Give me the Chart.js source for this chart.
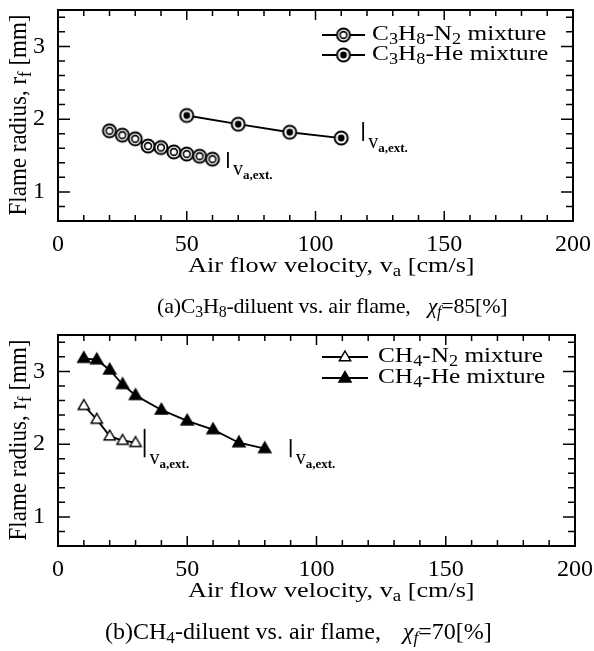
<!DOCTYPE html>
<html>
<head>
<meta charset="utf-8">
<script src="https://cdn.jsdelivr.net/npm/chart.js@4.4.1/dist/chart.umd.min.js"></script>
<style>
  html, body { margin: 0; padding: 0; background: #fff; }
  #pagina { position: relative; width: 594px; height: 651px; overflow: hidden;
            font-family: 'Liberation Serif', 'Times New Roman', serif; color: #000; }
  .caja { position: absolute; left: 0; width: 594px; height: 262px; }
  .t { position: absolute; white-space: nowrap; line-height: 1; transform-origin: 0 0; }
  .t sub { font-size: 0.72em; vertical-align: -0.25em; line-height: 0; }
  .ytitulo { font-size: 23px; transform-origin: 50% 50%;
             transform: translate(-50%, -50%) rotate(-90deg) scaleY(1.1); }
  .ancho { transform: scaleX(1.15); }
  .ext { font-size: 20px; }
  .ext sub { font-size: 13px; font-weight: bold; vertical-align: -4px; }
</style>
</head>
<body>
<div id="pagina">
  <div class="caja" style="top:0px"><canvas id="grafico_a" width="594" height="262"></canvas></div>
  <div class="caja" style="top:325px"><canvas id="grafico_b" width="594" height="262"></canvas></div>

  <!-- textos grafico (a) -->
  <div class="t ytitulo" style="left:18px; top:115px">Flame radius, r<sub>f</sub> [mm]</div>
  <div class="t" style="left:188px; top:253.6px; font-size:22px; transform:scaleX(1.19)">Air flow velocity, v<sub>a</sub> [cm/s]</div>
  <div class="t ancho" style="left:372px; top:21.6px; font-size:22px">C<sub>3</sub>H<sub>8</sub>-N<sub>2</sub> mixture</div>
  <div class="t ancho" style="left:372px; top:41.6px; font-size:22px">C<sub>3</sub>H<sub>8</sub>-He mixture</div>
  <div class="t" style="left:157px; top:294.6px; font-size:22px; letter-spacing:-0.2px">(a)C<sub>3</sub>H<sub>8</sub>-diluent vs. air flame,<span style="display:inline-block; width:17px"></span><i>χ<sub>f</sub></i>=85[%]</div>
  <div class="t ext" id="extA0">v<sub>a,ext.</sub></div>
  <div class="t ext" id="extA1">v<sub>a,ext.</sub></div>

  <!-- textos grafico (b) -->
  <div class="t ytitulo" style="left:18px; top:440px">Flame radius, r<sub>f</sub> [mm]</div>
  <div class="t" style="left:188px; top:578.6px; font-size:22px; transform:scaleX(1.19)">Air flow velocity, v<sub>a</sub> [cm/s]</div>
  <div class="t ancho" style="left:378px; top:343.6px; font-size:22px">CH<sub>4</sub>-N<sub>2</sub> mixture</div>
  <div class="t ancho" style="left:378px; top:364.6px; font-size:22px">CH<sub>4</sub>-He mixture</div>
  <div class="t" style="left:105px; top:618.9px; font-size:24px">(b)CH<sub>4</sub>-diluent vs. air flame,<span style="display:inline-block; width:22px"></span><i>χ<sub>f</sub></i>=70[%]</div>
  <div class="t ext" id="extB0">v<sub>a,ext.</sub></div>
  <div class="t ext" id="extB1">v<sub>a,ext.</sub></div>
</div>

<script>
// (a) C3H8 - diluyente
const velN2a = [20, 25, 30, 35, 40, 45, 50, 55, 60];
const radN2a = [1.84, 1.78, 1.73, 1.63, 1.61, 1.55, 1.52, 1.49, 1.45];
const velHea = [50, 70, 90, 110];
const radHea = [2.05, 1.93, 1.82, 1.74];

// (b) CH4 - diluyente
const velN2b = [10, 15, 20, 25, 30];
const radN2b = [2.53, 2.34, 2.11, 2.05, 2.02];
const velHeb = [10, 15, 20, 25, 30, 40, 50, 60, 70, 80];
const radHeb = [3.18, 3.16, 3.02, 2.82, 2.67, 2.47, 2.32, 2.20, 2.02, 1.94];

// marcas v_a,ext (velocidad, radio abajo, radio arriba)
const extVelA = [66, 118.5];
const extLoA = [1.33, 1.70];
const extHiA = [1.55, 1.96];
const extVelB = [33.5, 90];
const extLoB = [1.82, 1.82];
const extHiB = [2.21, 2.07];

const xTicks = [0, 50, 100, 150, 200];
const yTicks = [1, 2, 3];

function crearMarcador(tipo) {
    const c = document.createElement('canvas');
    c.width = 18; c.height = 18;
    const g = c.getContext('2d');
    g.strokeStyle = '#000';
    g.fillStyle = '#fff';
    if (tipo === 'anillo' || tipo === 'anilloLleno') {
        g.lineWidth = 2;
        g.beginPath(); g.arc(9, 9, 6.5, 0, Math.PI * 2); g.fill(); g.stroke();
        g.beginPath(); g.arc(9, 9, 3.4, 0, Math.PI * 2);
        if (tipo === 'anilloLleno') { g.fillStyle = '#000'; g.fill(); }
        else { g.lineWidth = 1.6; g.stroke(); }
    } else {
        // triangulo
        let r = tipo === 'trianguloLleno' ? 7 : 6.5;
        g.lineWidth = 1.5;
        g.beginPath();
        g.moveTo(9, 9.5 - r);
        g.lineTo(9 + r * 0.866, 9.5 + r / 2);
        g.lineTo(9 - r * 0.866, 9.5 + r / 2);
        g.closePath();
        if (tipo === 'trianguloLleno') g.fillStyle = '#000';
        g.fill(); g.stroke();
    }
    return c;
}

// marco con ticks hacia adentro en los 4 lados
const marcoPlugin = {
    id: 'marco',
    beforeDatasetsDraw(chart) {
        const { ctx, chartArea: a, scales: { x, y } } = chart;
        ctx.save();
        ctx.strokeStyle = '#000';
        ctx.lineWidth = 1.5;
        ctx.beginPath();
        for (let k = 0; k <= 20; k++) {
            const px = x.getPixelForValue(k * 10);
            const largo = k % 5 === 0 ? 10 : 6;
            ctx.moveTo(px, a.bottom); ctx.lineTo(px, a.bottom - largo);
            ctx.moveTo(px, a.top); ctx.lineTo(px, a.top + largo);
        }
        for (let k = 4; k <= 17; k++) {
            const py = y.getPixelForValue(k * 0.2);
            const largo = k % 5 === 0 ? 12 : 7;
            ctx.moveTo(a.left, py); ctx.lineTo(a.left + largo, py);
            ctx.moveTo(a.right, py); ctx.lineTo(a.right - largo, py);
        }
        ctx.stroke();
        ctx.lineWidth = 2;
        ctx.strokeRect(a.left, a.top, a.right - a.left, a.bottom - a.top);
        ctx.restore();
    }
};

const extPlugin = {
    id: 'extMarcas',
    afterDatasetsDraw(chart, args, opts) {
        const { ctx, scales: { x, y } } = chart;
        const caja = chart.canvas.parentNode;
        ctx.save();
        ctx.strokeStyle = '#000';
        ctx.lineWidth = 1.8;
        opts.vel.forEach((v, i) => {
            const px = x.getPixelForValue(v);
            const pLo = y.getPixelForValue(opts.lo[i]);
            const pHi = y.getPixelForValue(opts.hi[i]);
            ctx.beginPath(); ctx.moveTo(px, pHi); ctx.lineTo(px, pLo); ctx.stroke();
            const etiqueta = document.getElementById(opts.ids[i]);
            etiqueta.style.left = (caja.offsetLeft + px + 5) + 'px';
            etiqueta.style.top = (caja.offsetTop + pLo + 7 - 16.75) + 'px';
        });
        ctx.restore();
    }
};

const leyendaPlugin = {
    id: 'leyenda',
    afterDraw(chart, args, opts) {
        const ctx = chart.ctx;
        chart.data.datasets.forEach((ds, i) => {
            const yy = opts.filas[i];
            ctx.save();
            ctx.strokeStyle = '#000';
            ctx.lineWidth = 1.8;
            ctx.beginPath(); ctx.moveTo(opts.x0, yy); ctx.lineTo(opts.x1, yy); ctx.stroke();
            const m = ds.pointStyle;
            ctx.drawImage(m, (opts.x0 + opts.x1) / 2 - m.width / 2, yy - m.height / 2);
            ctx.restore();
        });
    }
};

function crearGrafico(idCanvas, series, ext, derecha, leyenda) {
    const fuente = { family: 'Liberation Serif', size: 24 };
    return new Chart(document.getElementById(idCanvas), {
        type: 'scatter',
        data: {
            datasets: series.map(s => ({
                label: s.label,
                data: s.x.map((v, i) => ({ x: v, y: s.y[i] })),
                showLine: true,
                borderColor: '#000',
                backgroundColor: '#000',
                borderWidth: 1.8,
                pointStyle: s.marcador,
                pointRadius: 7,
                pointHoverRadius: 7
            }))
        },
        options: {
            responsive: false,
            animation: false,
            events: [],
            layout: { padding: { top: 10, right: derecha, left: 0, bottom: 0 } },
            plugins: {
                legend: { display: false },
                tooltip: { enabled: false },
                extMarcas: ext,
                leyenda: leyenda
            },
            scales: {
                x: {
                    type: 'linear', min: 0, max: 200,
                    afterBuildTicks: s => { s.ticks = xTicks.map(v => ({ value: v })); },
                    afterFit: s => { s.height = 41; s.paddingLeft = 0; s.paddingRight = 0; },
                    grid: { display: false, drawTicks: false },
                    border: { display: false },
                    ticks: { padding: 9, font: fuente, color: '#000', maxRotation: 0, autoSkip: false }
                },
                y: {
                    type: 'linear', min: 0.6, max: 3.5,
                    afterBuildTicks: s => { s.ticks = yTicks.map(v => ({ value: v })); },
                    afterFit: s => { s.width = 58; s.paddingTop = 0; s.paddingBottom = 0; },
                    grid: { display: false, drawTicks: false },
                    border: { display: false },
                    ticks: { padding: 13, font: fuente, color: '#000', autoSkip: false }
                }
            }
        },
        plugins: [marcoPlugin, extPlugin, leyendaPlugin]
    });
}

let graficoA = crearGrafico('grafico_a', [
    { label: 'C3H8-N2 mixture', x: velN2a, y: radN2a, marcador: crearMarcador('anillo') },
    { label: 'C3H8-He mixture', x: velHea, y: radHea, marcador: crearMarcador('anilloLleno') }
], { vel: extVelA, lo: extLoA, hi: extHiA, ids: ['extA0', 'extA1'] }, 21,
   { x0: 322, x1: 365, filas: [35, 55] });

let graficoB = crearGrafico('grafico_b', [
    { label: 'CH4-N2 mixture', x: velN2b, y: radN2b, marcador: crearMarcador('triangulo') },
    { label: 'CH4-He mixture', x: velHeb, y: radHeb, marcador: crearMarcador('trianguloLleno') }
], { vel: extVelB, lo: extLoB, hi: extHiB, ids: ['extB0', 'extB1'] }, 19,
   { x0: 322, x1: 368, filas: [32, 53] });
</script>
</body>
</html>
